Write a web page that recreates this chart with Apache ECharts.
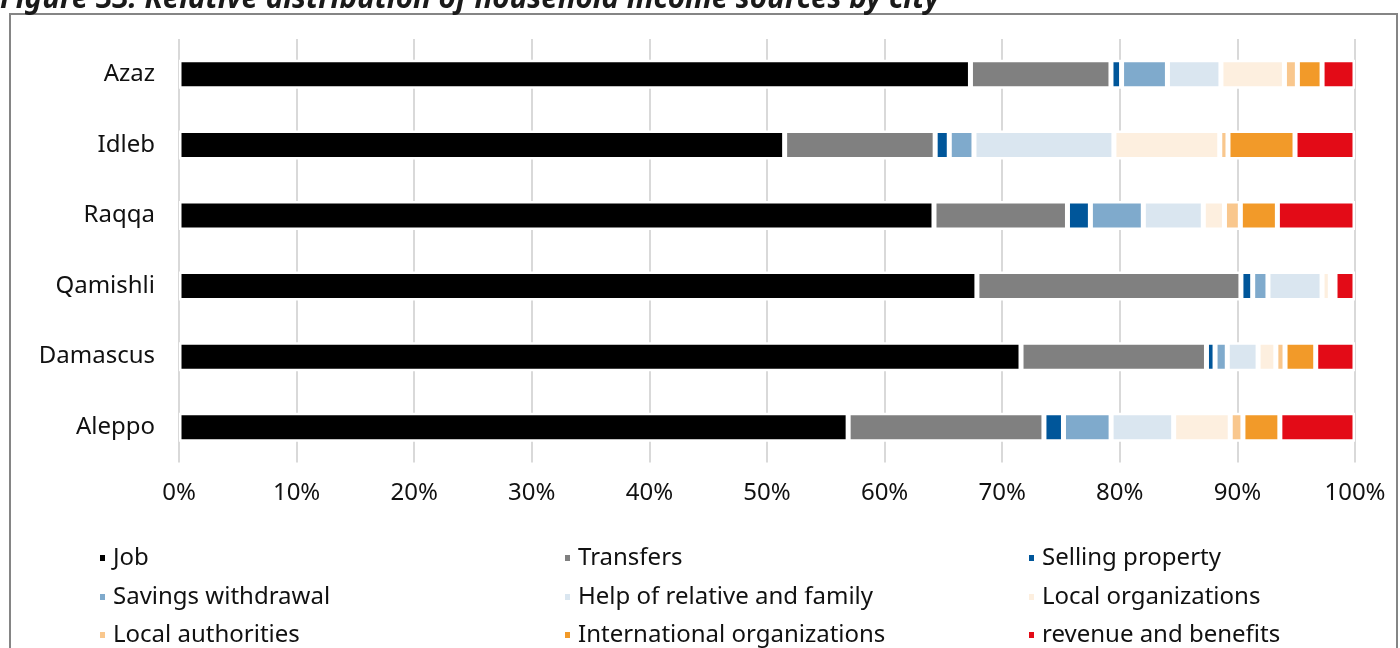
<!DOCTYPE html>
<html>
<head>
<meta charset="utf-8">
<script src="https://cdn.jsdelivr.net/npm/echarts@6/dist/echarts.min.js"></script>
<style>
html,body{margin:0;padding:0;background:#fff;}
#chart{width:1400px;height:648px;}
</style>
</head>
<body>
<div id="chart"></div>
<script>
const cities = ['Azaz','Idleb','Raqqa','Qamishli','Damascus','Aleppo'];
const seriesNames = ['Job','Transfers','Selling property','Savings withdrawal','Help of relative and family','Local organizations','Local authorities','International organizations','revenue and benefits'];
const job        = [67.3, 51.5, 64.2, 67.85, 71.6, 56.9];
const transfers  = [11.95, 12.8, 11.35, 22.45, 15.77, 16.65];
const selling    = [0.9, 1.2, 1.95, 1.0, 0.73, 1.66];
const savings    = [3.9, 2.1, 4.5, 1.3, 1.04, 4.05];
const help       = [4.55, 11.9, 5.1, 4.6, 2.62, 5.32];
const localOrg   = [5.4, 9.0, 1.8, 0.7, 1.51, 4.81];
const localAuth  = [1.1, 0.7, 1.35, 0.2, 0.78, 1.08];
const intlOrg    = [2.1, 5.7, 3.15, 0.2, 2.61, 3.14];
const revenue    = [2.8, 5.1, 6.6, 1.7, 3.34, 6.39];
const xTicks = [0,10,20,30,40,50,60,70,80,90,100];
const titleText = 'Figure 33: Relative distribution of household income sources by city';

const values = [job, transfers, selling, savings, help, localOrg, localAuth, intlOrg, revenue];
const colors = ['#000000','#808080','#00569a','#7faacc','#dae6f0','#fdefdf','#f9c78d','#f29a29','#e30b17'];
const FONT = 'Noto Sans';

const chart = echarts.init(document.getElementById('chart'));
const series = seriesNames.map((n, i) => ({
  name: n,
  type: 'bar',
  stack: 'total',
  barWidth: 29,
  data: values[i],
  itemStyle: { color: colors[i], borderColor: '#ffffff', borderWidth: 2.5 },
  emphasis: { disabled: true },
  z: 3
}));

// legend grid: 3 columns x 3 rows (row-major order of seriesNames)
const colLeft = [93, 558, 1022];
const rowTop = [541, 580, 618];
const legends = seriesNames.map((n, i) => ({
  orient: 'horizontal',
  left: colLeft[i % 3], top: rowTop[Math.floor(i / 3)],
  data: [n], icon: 'rect', itemWidth: 7, itemHeight: 8,
  textStyle: { fontSize: 24, color: '#111', fontFamily: FONT, padding: [0,0,0,2] },
  selectedMode: false
}));

chart.setOption({
  animation: false,
  backgroundColor: '#ffffff',
  textStyle: { fontFamily: FONT },
  grid: { left: 179, right: 45, top: 39, bottom: 648 - 462.5, containLabel: false },
  xAxis: {
    type: 'value', min: 0, max: 100, interval: 10,
    axisLine: { show: false }, axisTick: { show: false },
    axisLabel: { formatter: '{value}%', fontSize: 24, color: '#111', fontFamily: FONT, margin: 19 },
    splitLine: { show: true, lineStyle: { color: '#d9d9d9', width: 2 } }
  },
  yAxis: {
    type: 'category', data: cities, inverse: true,
    axisLine: { show: false }, axisTick: { show: false },
    axisLabel: { fontSize: 24, color: '#111', fontFamily: FONT, margin: 24 }
  },
  legend: legends,
  series: series,
  graphic: [
    { type: 'rect', shape: { x: 10, y: 14, width: 1387, height: 700 },
      style: { fill: 'none', stroke: '#858585', lineWidth: 2 }, z: 10 },
    { type: 'text', x: 0, y: 15,
      style: { text: titleText, fontSize: 29.5, fontWeight: 'bold', fontStyle: 'italic', fontFamily: FONT,
               fill: '#1a1a1a', verticalAlign: 'bottom', align: 'left' }, z: 10 }
  ]
});
</script>
</body>
</html>
